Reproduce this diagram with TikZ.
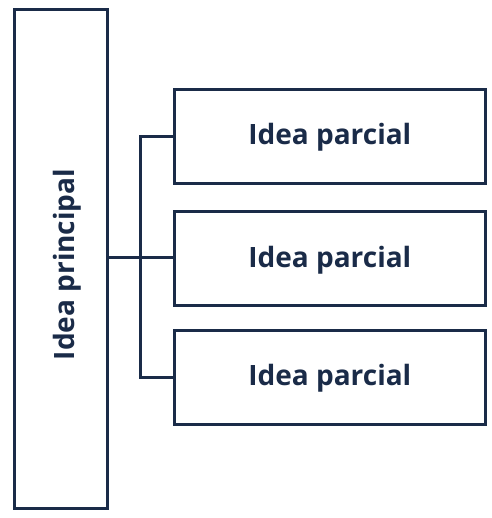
\documentclass[tikz,border=0pt]{standalone}
\usepackage{fontspec}
\setmainfont{Open Sans}
\definecolor{navy}{HTML}{1A2B48}
\begin{document}
\begin{tikzpicture}[x=1pt,y=-1pt,
  box/.style={draw=navy,line width=3pt,fill=white,text=navy,font=\bfseries\fontsize{28}{30}\selectfont,inner sep=0pt},
  sub/.style={box,minimum width=311.5pt,minimum height=94pt,text height=22pt,text depth=5pt},
  conn/.style={draw=navy,line width=3pt}]
\useasboundingbox (0,0) rectangle (491,518);
\node[box,minimum width=93pt,minimum height=498pt] (main) at (61,259) {};
\node[font=\bfseries\fontsize{28}{30}\selectfont,text=navy,rotate=90,anchor=base] (maintext) at (74,264.5) {Idea principal};
\node[sub] (p1) at (329.8,136.5) {Idea parcial};
\node[sub] (p2) at (329.8,258.5) {Idea parcial};
\node[sub] (p3) at (329.8,377) {Idea parcial};
\coordinate (j) at (140,257.5);
\draw[conn] (main.east |- j) -- (j);
\draw[conn] (p1.west) -- (p1.west -| j) -- (p3.west -| j) -- (p3.west);
\draw[conn] (j) -- (p2.west |- j);
\end{tikzpicture}
\end{document}
